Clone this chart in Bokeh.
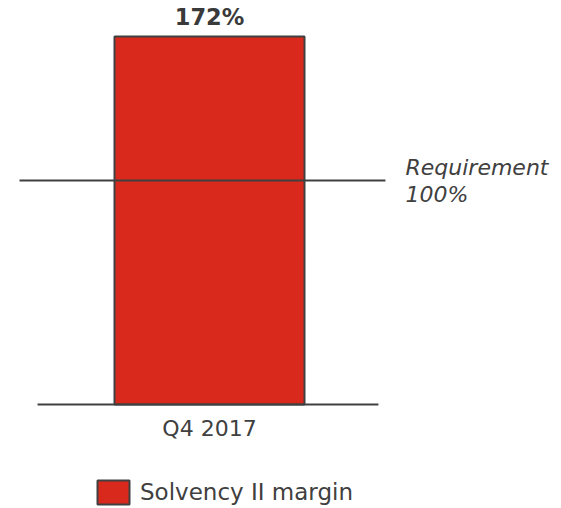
from bokeh.plotting import figure
from bokeh.models import ColumnDataSource, Range1d, Legend, LegendItem
from bokeh.core.properties import value
from bokeh.embed import file_html
from bokeh.resources import INLINE

# ---- data ----
categories = ["Q4 2017"]
solvency_margin = [172]          # %
requirement_value = [104.7]      # position of requirement line
requirement_label = ["Requirement", "100%"]
bar_labels = ["172%"]
series_name = "Solvency II margin"

FONT = "DejaVu Sans"
TXT = "#404040"
RED = "#d9291c"

p = figure(width=553, height=508, output_backend="svg", toolbar_location=None,
           x_range=Range1d(-1.1, 1.8105), y_range=Range1d(-48.61, 188.83),
           min_border=0, min_border_left=0, min_border_right=0,
           min_border_top=0, min_border_bottom=0,
           x_axis_location=None, y_axis_location=None)
p.outline_line_color = None
p.grid.visible = False
p.background_fill_color = "white"
p.border_fill_color = "white"

xs = list(range(len(categories)))
src = ColumnDataSource(dict(x=xs, top=solvency_margin, cat=categories, lab=bar_labels))

bar = p.vbar(x="x", top="top", bottom=0, width=1, source=src,
             fill_color=RED, line_color=TXT, line_width=2)

# baseline
p.segment(x0=[-0.905], y0=[0], x1=[0.889], y1=[0], line_color=TXT, line_width=2)
# requirement line
p.segment(x0=[-1.0], y0=requirement_value, x1=[0.926], y1=requirement_value,
          line_color=TXT, line_width=2)

# value label
p.text(x="x", y="top", text="lab", source=src, text_font=value(FONT),
       text_font_style="bold", text_font_size="22.5px", text_color="#3a3a3a",
       text_align="center", text_baseline="alphabetic", y_offset=-20)

# category label
p.text(x="x", y=0, text="cat", source=src, text_font=value(FONT),
       text_font_size="22px", text_color=TXT, text_align="center",
       text_baseline="alphabetic", y_offset=24)

# requirement label
p.text(x=[1.0316], y=requirement_value, text=[requirement_label[0]],
       text_font=value(FONT), text_font_style="italic", text_font_size="22px",
       text_color=TXT, text_align="left", text_baseline="alphabetic", y_offset=-13)
p.text(x=[1.0316], y=requirement_value, text=[requirement_label[1]],
       text_font=value(FONT), text_font_style="italic", text_font_size="22px",
       text_color=TXT, text_align="left", text_baseline="alphabetic", y_offset=14)

legend = Legend(items=[LegendItem(label=series_name, renderers=[bar])],
                location=(93, 1), orientation="horizontal",
                glyph_width=40, glyph_height=30, label_standoff=7,
                label_text_font=FONT, label_text_font_size="23px",
                label_text_color=TXT, padding=0, margin=0, spacing=0,
                border_line_alpha=0, background_fill_alpha=0)
p.add_layout(legend, "center")

open("out.html", "w").write(file_html(p, INLINE))
